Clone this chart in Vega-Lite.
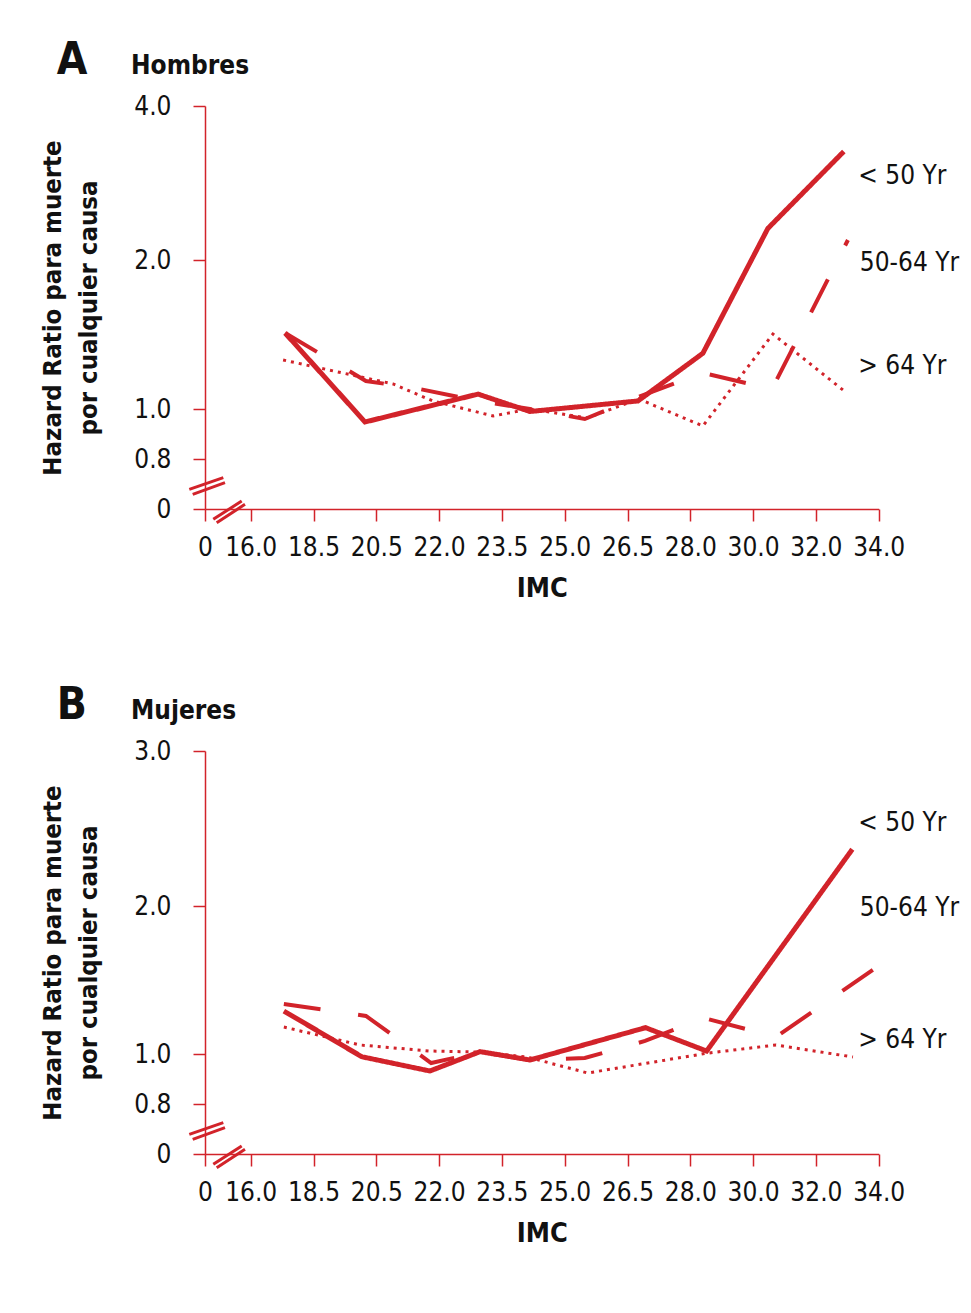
{
  "$schema": "https://vega.github.io/schema/vega-lite/v6.json",
  "background": "white",
  "padding": {"left": 40, "top": 39, "right": 10, "bottom": 10},
  "spacing": 83,
  "config": {
    "font": "DejaVu Sans Condensed, sans-serif",
    "view": {"stroke": null},
    "axis": {
      "grid": false,
      "domainColor": "#d2232a",
      "domainWidth": 1.5,
      "tickColor": "#d2232a",
      "tickWidth": 1.5,
      "tickSize": 12,
      "labelColor": "#111111",
      "labelFontSize": 26,
      "labelOverlap": false,
      "labelFlush": false,
      "titleColor": "#111111",
      "titleFontWeight": "bold",
      "titleFontSize": 25.5
    },
    "title": {"color": "#111111", "fontWeight": "bold", "anchor": "start"}
  },
  "datasets": {
    "lines": [
      {"panel": "A", "group": "< 50 Yr", "bmi": 17.37, "hr": 1.51},
      {"panel": "A", "group": "< 50 Yr", "bmi": 20.14, "hr": 0.948},
      {"panel": "A", "group": "< 50 Yr", "bmi": 22.93, "hr": 1.10},
      {"panel": "A", "group": "< 50 Yr", "bmi": 24.17, "hr": 0.99},
      {"panel": "A", "group": "< 50 Yr", "bmi": 26.75, "hr": 1.054},
      {"panel": "A", "group": "< 50 Yr", "bmi": 28.40, "hr": 1.374},
      {"panel": "A", "group": "< 50 Yr", "bmi": 30.47, "hr": 2.41},
      {"panel": "A", "group": "< 50 Yr", "bmi": 32.89, "hr": 3.41},
      {"panel": "A", "group": "50-64 Yr", "bmi": 17.37, "hr": 1.51},
      {"panel": "A", "group": "50-64 Yr", "bmi": 20.17, "hr": 1.188},
      {"panel": "A", "group": "50-64 Yr", "bmi": 21.54, "hr": 1.134},
      {"panel": "A", "group": "50-64 Yr", "bmi": 22.93, "hr": 1.054},
      {"panel": "A", "group": "50-64 Yr", "bmi": 24.17, "hr": 1.0},
      {"panel": "A", "group": "50-64 Yr", "bmi": 25.48, "hr": 0.96},
      {"panel": "A", "group": "50-64 Yr", "bmi": 26.75, "hr": 1.08},
      {"panel": "A", "group": "50-64 Yr", "bmi": 28.40, "hr": 1.242},
      {"panel": "A", "group": "50-64 Yr", "bmi": 30.60, "hr": 1.134},
      {"panel": "A", "group": "50-64 Yr", "bmi": 33.02, "hr": 2.26},
      {"panel": "A", "group": "> 64 Yr", "bmi": 17.29, "hr": 1.329},
      {"panel": "A", "group": "> 64 Yr", "bmi": 20.9, "hr": 1.168},
      {"panel": "A", "group": "> 64 Yr", "bmi": 21.85, "hr": 1.054},
      {"panel": "A", "group": "> 64 Yr", "bmi": 23.29, "hr": 0.972},
      {"panel": "A", "group": "> 64 Yr", "bmi": 24.17, "hr": 1.0},
      {"panel": "A", "group": "> 64 Yr", "bmi": 25.53, "hr": 0.964},
      {"panel": "A", "group": "> 64 Yr", "bmi": 26.77, "hr": 1.067},
      {"panel": "A", "group": "> 64 Yr", "bmi": 28.40, "hr": 0.932},
      {"panel": "A", "group": "> 64 Yr", "bmi": 30.63, "hr": 1.503},
      {"panel": "A", "group": "> 64 Yr", "bmi": 32.86, "hr": 1.128},
      {"panel": "B", "group": "< 50 Yr", "bmi": 17.32, "hr": 1.29},
      {"panel": "B", "group": "< 50 Yr", "bmi": 20.04, "hr": 0.989},
      {"panel": "B", "group": "< 50 Yr", "bmi": 21.78, "hr": 0.932},
      {"panel": "B", "group": "< 50 Yr", "bmi": 22.98, "hr": 1.016},
      {"panel": "B", "group": "< 50 Yr", "bmi": 24.17, "hr": 0.976},
      {"panel": "B", "group": "< 50 Yr", "bmi": 26.93, "hr": 1.178},
      {"panel": "B", "group": "< 50 Yr", "bmi": 28.52, "hr": 1.02},
      {"panel": "B", "group": "< 50 Yr", "bmi": 33.16, "hr": 2.366},
      {"panel": "B", "group": "50-64 Yr", "bmi": 17.32, "hr": 1.338},
      {"panel": "B", "group": "50-64 Yr", "bmi": 20.17, "hr": 1.257},
      {"panel": "B", "group": "50-64 Yr", "bmi": 21.81, "hr": 0.964},
      {"panel": "B", "group": "50-64 Yr", "bmi": 22.98, "hr": 1.013},
      {"panel": "B", "group": "50-64 Yr", "bmi": 24.17, "hr": 0.976},
      {"panel": "B", "group": "50-64 Yr", "bmi": 25.48, "hr": 0.984},
      {"panel": "B", "group": "50-64 Yr", "bmi": 26.92, "hr": 1.088},
      {"panel": "B", "group": "50-64 Yr", "bmi": 28.44, "hr": 1.243},
      {"panel": "B", "group": "50-64 Yr", "bmi": 30.73, "hr": 1.115},
      {"panel": "B", "group": "50-64 Yr", "bmi": 34.77, "hr": 1.709},
      {"panel": "B", "group": "> 64 Yr", "bmi": 17.32, "hr": 1.182},
      {"panel": "B", "group": "> 64 Yr", "bmi": 19.98, "hr": 1.061},
      {"panel": "B", "group": "> 64 Yr", "bmi": 21.78, "hr": 1.02},
      {"panel": "B", "group": "> 64 Yr", "bmi": 22.98, "hr": 1.013},
      {"panel": "B", "group": "> 64 Yr", "bmi": 24.1, "hr": 0.988},
      {"panel": "B", "group": "> 64 Yr", "bmi": 25.55, "hr": 0.924},
      {"panel": "B", "group": "> 64 Yr", "bmi": 28.52, "hr": 1.005},
      {"panel": "B", "group": "> 64 Yr", "bmi": 30.73, "hr": 1.061},
      {"panel": "B", "group": "> 64 Yr", "bmi": 33.18, "hr": 0.988}
    ],
    "labels": [
      {"panel": "A", "label": "< 50 Yr", "bmi": 33.35, "hr": 3.09},
      {"panel": "A", "label": "50-64 Yr", "bmi": 33.4, "hr": 1.98},
      {"panel": "A", "label": "> 64 Yr", "bmi": 33.35, "hr": 1.289},
      {"panel": "B", "label": "< 50 Yr", "bmi": 33.35, "hr": 2.535},
      {"panel": "B", "label": "50-64 Yr", "bmi": 33.4, "hr": 1.986},
      {"panel": "B", "label": "> 64 Yr", "bmi": 33.35, "hr": 1.095}
    ],
    "breaks": [
      {"bmi": -5.5, "hr": 0.315, "bmi2": 6.4, "hr2": 0.501},
      {"bmi": -4.3, "hr": 0.235, "bmi2": 7.0, "hr2": 0.421},
      {"bmi": 2.9, "hr": -0.165, "bmi2": 12.85, "hr2": 0.128},
      {"bmi": 4.1, "hr": -0.219, "bmi2": 14.0, "hr2": 0.075}
    ]
  },
  "vconcat": [
    {
      "title": {"text": "A", "fontSize": 44, "frame": "bounds", "dx": 16, "offset": -30},
      "vconcat": [
        {
          "title": {"text": "Hombres", "fontSize": 26, "frame": "group", "dx": -74, "offset": 14},
          "width": 674,
          "height": 403,
          "layer": [
            {
              "data": {"name": "lines"},
              "transform": [{"filter": "datum.panel == 'A'"}],
              "mark": {"type": "line", "color": "#d2232a", "strokeCap": "butt", "strokeJoin": "miter"},
              "encoding": {
                "x": {
                  "field": "bmi", "type": "quantitative",
                  "scale": {"type": "linear", "nice": false, "zero": false,
                    "domain": [0, 16, 18.5, 20.5, 22, 23.5, 25, 26.5, 28, 30, 32, 34],
                    "range": [0, 45.7, 108.5, 171.3, 234.1, 296.9, 359.7, 422.5, 485.3, 548.1, 610.9, 673.7]},
                  "axis": {
                    "values": [0, 16, 18.5, 20.5, 22, 23.5, 25, 26.5, 28, 30, 32, 34],
                    "labelExpr": "datum.value == 0 ? '0' : format(datum.value, '.1f')",
                    "labelPadding": 13,
                    "titlePadding": 15,
                    "titleFontSize": 27
                  },
                  "title": "IMC"
                },
                "y": {
                  "field": "hr", "type": "quantitative",
                  "scale": {"type": "linear", "nice": false, "zero": false,
                    "domain": [0, 0.8, 1, 2, 4],
                    "range": [403, 353, 303, 154, 0]},
                  "axis": {
                    "values": [0, 0.8, 1, 2, 4],
                    "labelExpr": "datum.value == 0 ? '0' : format(datum.value, '.1f')",
                    "labelPadding": 22,
                    "titlePadding": 32,
                    "titleLineHeight": 36
                  },
                  "title": ["Hazard Ratio para muerte", "por cualquier causa"]
                },
                "detail": {"field": "group"},
                "strokeDash": {
                  "field": "group", "type": "nominal", "legend": null,
                  "scale": {"domain": ["< 50 Yr", "50-64 Yr", "> 64 Yr"], "range": [[1, 0], [37, 38], [3, 5]]}
                },
                "strokeWidth": {
                  "field": "group", "type": "nominal", "legend": null,
                  "scale": {"domain": ["< 50 Yr", "50-64 Yr", "> 64 Yr"], "range": [5, 3, 3]}
                }
              }
            },
            {
              "mark": {"type": "rule", "color": "#d2232a", "strokeWidth": 2.5, "strokeDash": [3, 5]},
              "encoding": {"y": {"datum": 1}}
            },
            {
              "data": {"name": "labels"},
              "transform": [{"filter": "datum.panel == 'A'"}],
              "mark": {"type": "text", "align": "left", "baseline": "middle", "fontSize": 26, "color": "#111111"},
              "encoding": {
                "x": {"field": "bmi", "type": "quantitative"},
                "y": {"field": "hr", "type": "quantitative"},
                "text": {"field": "label"}
              }
            },
            {
              "data": {"name": "breaks"},
              "mark": {"type": "rule", "color": "#d2232a", "strokeWidth": 3},
              "encoding": {
                "x": {"field": "bmi", "type": "quantitative"},
                "x2": {"field": "bmi2"},
                "y": {"field": "hr", "type": "quantitative"},
                "y2": {"field": "hr2"}
              }
            }
          ]
        }
      ]
    },
    {
      "title": {"text": "B", "fontSize": 44, "frame": "bounds", "dx": 16, "offset": -30},
      "vconcat": [
        {
          "title": {"text": "Mujeres", "fontSize": 26, "frame": "group", "dx": -74, "offset": 14},
          "width": 674,
          "height": 403,
          "layer": [
            {
              "data": {"name": "lines"},
              "transform": [{"filter": "datum.panel == 'B'"}],
              "mark": {"type": "line", "color": "#d2232a", "strokeCap": "butt", "strokeJoin": "miter"},
              "encoding": {
                "x": {
                  "field": "bmi", "type": "quantitative",
                  "scale": {"type": "linear", "nice": false, "zero": false,
                    "domain": [0, 16, 18.5, 20.5, 22, 23.5, 25, 26.5, 28, 30, 32, 34],
                    "range": [0, 45.7, 108.5, 171.3, 234.1, 296.9, 359.7, 422.5, 485.3, 548.1, 610.9, 673.7]},
                  "axis": {
                    "values": [0, 16, 18.5, 20.5, 22, 23.5, 25, 26.5, 28, 30, 32, 34],
                    "labelExpr": "datum.value == 0 ? '0' : format(datum.value, '.1f')",
                    "labelPadding": 13,
                    "titlePadding": 15,
                    "titleFontSize": 27
                  },
                  "title": "IMC"
                },
                "y": {
                  "field": "hr", "type": "quantitative",
                  "scale": {"type": "linear", "nice": false, "zero": false,
                    "domain": [0, 0.8, 1, 2, 3],
                    "range": [403, 353, 303, 155, 0]},
                  "axis": {
                    "values": [0, 0.8, 1, 2, 3],
                    "labelExpr": "datum.value == 0 ? '0' : format(datum.value, '.1f')",
                    "labelPadding": 22,
                    "titlePadding": 32,
                    "titleLineHeight": 36
                  },
                  "title": ["Hazard Ratio para muerte", "por cualquier causa"]
                },
                "detail": {"field": "group"},
                "strokeDash": {
                  "field": "group", "type": "nominal", "legend": null,
                  "scale": {"domain": ["< 50 Yr", "50-64 Yr", "> 64 Yr"], "range": [[1, 0], [37, 38], [3, 5]]}
                },
                "strokeWidth": {
                  "field": "group", "type": "nominal", "legend": null,
                  "scale": {"domain": ["< 50 Yr", "50-64 Yr", "> 64 Yr"], "range": [2.5, 3, 3]}
                }
              }
            },
            {
              "mark": {"type": "rule", "color": "#d2232a", "strokeWidth": 2.5, "strokeDash": [3, 5]},
              "encoding": {"y": {"datum": 1}}
            },
            {
              "data": {"name": "labels"},
              "transform": [{"filter": "datum.panel == 'B'"}],
              "mark": {"type": "text", "align": "left", "baseline": "middle", "fontSize": 26, "color": "#111111"},
              "encoding": {
                "x": {"field": "bmi", "type": "quantitative"},
                "y": {"field": "hr", "type": "quantitative"},
                "text": {"field": "label"}
              }
            },
            {
              "data": {"name": "breaks"},
              "mark": {"type": "rule", "color": "#d2232a", "strokeWidth": 3},
              "encoding": {
                "x": {"field": "bmi", "type": "quantitative"},
                "x2": {"field": "bmi2"},
                "y": {"field": "hr", "type": "quantitative"},
                "y2": {"field": "hr2"}
              }
            }
          ]
        }
      ]
    }
  ]
}
